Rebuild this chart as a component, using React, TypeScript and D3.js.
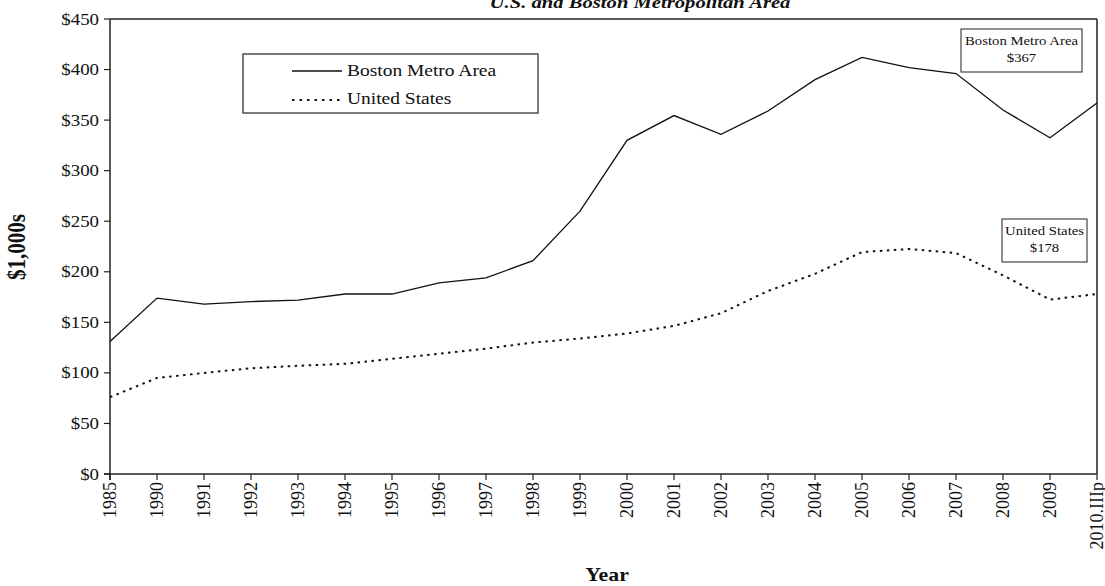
import React from "react";
import * as d3 from "d3";

const categories = ["1985","1990","1991","1992","1993","1994","1995","1996","1997","1998","1999","2000","2001","2002","2003","2004","2005","2006","2007","2008","2009","2010.IIIp"];
const bostonValues = [131,174,168,170.5,172,178,178,189,194,211,260,330,354.5,336,359,390,412,402,396,360,332.5,367];
const usValues = [76,95,100,104.5,107,109,114,119,124,130,134,139,146.5,159,181,198,219.5,222.5,218.5,196.5,172.5,178];
const yTicks = [0,50,100,150,200,250,300,350,400,450];
const seriesNames = ["Boston Metro Area","United States"];
const titleText = "U.S. and Boston Metropolitan Area";
const yAxisTitle = "$1,000s";
const xAxisTitle = "Year";

const W = 1105, H = 586;
const left = 110, right = 1097, top = 19, bottom = 474;
const FONT = "'Liberation Serif', 'Times New Roman', serif";

function SText({ x, y, rotate = 0, size, anchor = "start", weight = "normal", italic = false, dy = "0", sx = 1.18, children }: any) {
  return (
    <g transform={`translate(${x},${y}) scale(${sx},1) rotate(${rotate})`}>
      <text x={0} y={0} dy={dy} fontSize={size} textAnchor={anchor} fontWeight={weight}
        fontStyle={italic ? "italic" : "normal"} fontFamily={FONT} fill="#111">{children}</text>
    </g>
  );
}

export default function App() {
  const x = d3.scalePoint<string>().domain(categories).range([left, right]).padding(0);
  const y = d3.scaleLinear().domain([0, 450]).range([bottom, top]);
  const line = d3.line<number>().x((_, i) => x(categories[i]) as number).y(d => y(d));
  const fmt = (v: number) => "$" + d3.format(",")(v);
  const lastB = bostonValues[bostonValues.length - 1];
  const lastU = usValues[usValues.length - 1];

  return (
    <svg width={W} height={H} style={{ display: "block", position: "absolute", left: 0, top: 0 }}>
      <rect x={0} y={0} width={W} height={H} fill="#fff" />
      <SText x={640} y={8} size={17.5} anchor="middle" weight="bold" italic>{titleText}</SText>

      {/* frame */}
      <line x1={left} x2={right} y1={top} y2={top} stroke="#222" strokeWidth={1.5} />
      <line x1={right} x2={right} y1={top} y2={bottom} stroke="#222" strokeWidth={1.5} />
      <line x1={left} x2={left} y1={top} y2={bottom + 6} stroke="#222" strokeWidth={1.5} />
      <line x1={left - 6} x2={right} y1={bottom} y2={bottom} stroke="#222" strokeWidth={1.5} />

      {yTicks.map(t => (
        <g key={t}>
          <line x1={left - 6} x2={left} y1={y(t)} y2={y(t)} stroke="#222" strokeWidth={1.2} />
          <SText x={left - 11} y={y(t)} dy="0.35em" size={16} anchor="end">{fmt(t)}</SText>
        </g>
      ))}
      {categories.map(c => (
        <g key={c}>
          <line x1={x(c)} x2={x(c)} y1={bottom} y2={bottom + 6} stroke="#222" strokeWidth={1.2} />
          <SText x={x(c)} y={bottom + 8} rotate={-90} dy="0.35em" size={18} sx={1} anchor="end">{c}</SText>
        </g>
      ))}

      <SText x={25} y={247} rotate={-90} size={21} anchor="middle" weight="bold">{yAxisTitle}</SText>
      <SText x={607} y={581} size={18.5} anchor="middle" weight="bold">{xAxisTitle}</SText>

      <path d={line(bostonValues) || ""} fill="none" stroke="#111" strokeWidth={1.3} />
      <path d={line(usValues) || ""} fill="none" stroke="#111" strokeWidth={2} strokeDasharray="2.5,4.5" />

      {/* legend */}
      <rect x={243} y={54} width={295} height={59} fill="#fff" stroke="#333" strokeWidth={1.3} />
      <line x1={292} x2={342} y1={71} y2={71} stroke="#111" strokeWidth={1.3} />
      <SText x={347} y={76} size={16.5}>{seriesNames[0]}</SText>
      <line x1={292} x2={342} y1={100} y2={100} stroke="#111" strokeWidth={2} strokeDasharray="2.5,5" />
      <SText x={347} y={104} size={16.5}>{seriesNames[1]}</SText>

      {/* annotations */}
      <rect x={961} y={29} width={121} height={43} fill="#fff" stroke="#333" strokeWidth={1.1} />
      <SText x={1021.5} y={45} size={12.5} anchor="middle">{seriesNames[0]}</SText>
      <SText x={1021.5} y={62} size={12.5} anchor="middle">{fmt(lastB)}</SText>
      <rect x={1002} y={219} width={85} height={43} fill="#fff" stroke="#333" strokeWidth={1.1} />
      <SText x={1044.5} y={235} size={12.5} anchor="middle">{seriesNames[1]}</SText>
      <SText x={1044.5} y={252} size={12.5} anchor="middle">{fmt(lastU)}</SText>
    </svg>
  );
}
